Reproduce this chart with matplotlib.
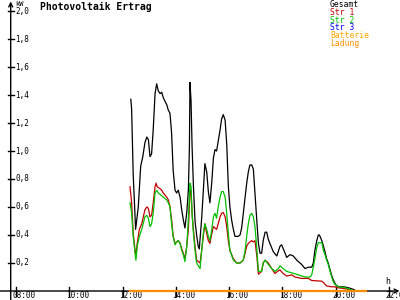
import numpy as np
import matplotlib
matplotlib.use("Agg")
import matplotlib.pyplot as plt

# Gesamt (kW) over time (decimal hours)
t_gesamt = [12.31, 12.34, 12.40, 12.49, 12.59, 12.68, 12.76, 12.84, 12.91, 12.97,
            13.03, 13.09, 13.15, 13.22, 13.28, 13.34, 13.41, 13.47, 13.53, 13.66,
            13.72, 13.78, 13.84, 13.90, 13.97, 14.03, 14.09, 14.16, 14.22, 14.28,
            14.34, 14.41, 14.47, 14.51, 14.53, 14.57, 14.61, 14.66, 14.72, 14.78,
            14.84, 14.88, 14.97, 15.03, 15.09, 15.16, 15.22, 15.28, 15.35, 15.41,
            15.47, 15.53, 15.59, 15.66, 15.72, 15.78, 15.85, 15.91, 15.97, 16.03,
            16.10, 16.16, 16.22, 16.34, 16.41, 16.47, 16.53, 16.60, 16.66, 16.72,
            16.78, 16.85, 16.91, 16.97, 17.04, 17.10, 17.16, 17.22, 17.28, 17.35,
            17.41, 17.47, 17.53, 17.66, 17.79, 17.91, 17.97, 18.10, 18.16, 18.29,
            18.41, 18.54, 18.72, 18.85, 18.97, 19.10, 19.16, 19.22, 19.29, 19.35,
            19.39, 19.48, 19.54, 19.60, 19.66, 19.72, 19.79, 19.85, 19.91, 19.97,
            20.04, 20.16, 20.29, 20.41, 20.54, 20.66, 20.73]
gesamt = [1.37, 1.30, 0.83, 0.44, 0.60, 0.89, 0.96, 1.06, 1.10, 1.08,
          0.96, 0.98, 1.15, 1.41, 1.48, 1.43, 1.41, 1.42, 1.38, 1.33,
          1.29, 1.27, 1.13, 0.86, 0.72, 0.70, 0.72, 0.67, 0.58, 0.51,
          0.45, 0.56, 0.72, 1.03, 1.49, 1.36, 1.03, 0.75, 0.50, 0.40,
          0.32, 0.30, 0.52, 0.71, 0.91, 0.85, 0.71, 0.63, 0.78, 0.95,
          1.01, 1.00, 1.07, 1.15, 1.23, 1.26, 1.22, 1.05, 0.75, 0.60,
          0.50, 0.44, 0.39, 0.39, 0.40, 0.45, 0.55, 0.67, 0.77, 0.85,
          0.90, 0.90, 0.87, 0.70, 0.50, 0.34, 0.27, 0.27, 0.36, 0.42,
          0.42, 0.37, 0.34, 0.28, 0.25, 0.32, 0.33, 0.27, 0.24, 0.26,
          0.25, 0.22, 0.19, 0.16, 0.17, 0.17, 0.20, 0.29, 0.36, 0.40,
          0.40, 0.36, 0.32, 0.28, 0.23, 0.20, 0.15, 0.11, 0.08, 0.055,
          0.036, 0.03, 0.03, 0.026, 0.02, 0.012, 0.005]

# Str 1
t_str1 = [12.28, 12.34, 12.40, 12.47, 12.50, 12.55, 12.63, 12.72, 12.84, 12.91,
          12.97, 13.03, 13.09, 13.15, 13.22, 13.26, 13.30, 13.41, 13.47, 13.53,
          13.66, 13.72, 13.78, 13.84, 13.90, 13.97, 14.03, 14.09, 14.16, 14.22,
          14.28, 14.34, 14.41, 14.47, 14.53, 14.57, 14.61, 14.66, 14.72, 14.78,
          14.91, 14.97, 15.03, 15.09, 15.16, 15.22, 15.28, 15.35, 15.41, 15.47,
          15.53, 15.59, 15.66, 15.72, 15.78, 15.85, 15.91, 15.97, 16.03, 16.16,
          16.28, 16.41, 16.53, 16.60, 16.66, 16.72, 16.78, 16.85, 16.91, 16.97,
          17.04, 17.10, 17.22, 17.28, 17.35, 17.47, 17.60, 17.72, 17.85, 17.91,
          18.03, 18.16, 18.35, 18.47, 18.72, 18.97, 19.10, 19.48, 19.54, 19.66,
          19.85, 19.97, 20.04, 20.23, 20.47, 20.54]
str1 = [0.745, 0.63, 0.41, 0.29, 0.245, 0.34, 0.44, 0.48, 0.58, 0.60,
        0.59, 0.53, 0.54, 0.63, 0.745, 0.77, 0.745, 0.73, 0.72, 0.70,
        0.67, 0.65, 0.60, 0.51, 0.39, 0.34, 0.35, 0.36, 0.34, 0.30,
        0.27, 0.23, 0.32, 0.44, 0.70, 0.72, 0.55, 0.44, 0.32, 0.22,
        0.20, 0.29, 0.39, 0.48, 0.41, 0.36, 0.34, 0.41, 0.46, 0.45,
        0.44, 0.48, 0.53, 0.555, 0.56, 0.53, 0.46, 0.36, 0.29, 0.23,
        0.20, 0.20, 0.22, 0.27, 0.32, 0.34, 0.35, 0.36, 0.35, 0.36,
        0.25, 0.12, 0.14, 0.20, 0.22, 0.20, 0.16, 0.125, 0.145, 0.15,
        0.125, 0.107, 0.115, 0.10, 0.09, 0.09, 0.075, 0.07, 0.06, 0.036,
        0.03, 0.03, 0.024, 0.02, 0.012, 0.005]

# Str 2
t_str2 = [12.28, 12.34, 12.40, 12.47, 12.50, 12.55, 12.63, 12.72, 12.84, 12.91,
          12.97, 13.03, 13.09, 13.15, 13.22, 13.28, 13.34, 13.41, 13.53, 13.66,
          13.72, 13.78, 13.84, 13.90, 13.97, 14.03, 14.09, 14.16, 14.22, 14.28,
          14.34, 14.41, 14.47, 14.53, 14.57, 14.61, 14.66, 14.72, 14.78, 14.91,
          14.97, 15.03, 15.09, 15.16, 15.22, 15.28, 15.35, 15.41, 15.47, 15.53,
          15.59, 15.66, 15.72, 15.78, 15.85, 15.91, 15.97, 16.03, 16.16, 16.28,
          16.41, 16.53, 16.60, 16.66, 16.72, 16.78, 16.85, 16.91, 16.97, 17.04,
          17.10, 17.22, 17.28, 17.35, 17.47, 17.60, 17.72, 17.85, 17.91, 18.03,
          18.16, 18.35, 18.60, 18.85, 19.04, 19.10, 19.16, 19.22, 19.29, 19.35,
          19.48, 19.54, 19.60, 19.66, 19.72, 19.79, 19.85, 19.91, 19.97, 20.10,
          20.35, 20.47, 20.60]
str2 = [0.63, 0.56, 0.39, 0.27, 0.22, 0.32, 0.39, 0.44, 0.53, 0.54,
        0.52, 0.46, 0.48, 0.555, 0.70, 0.72, 0.70, 0.69, 0.67, 0.65,
        0.63, 0.60, 0.48, 0.39, 0.33, 0.35, 0.36, 0.34, 0.29, 0.26,
        0.21, 0.32, 0.51, 0.77, 0.745, 0.55, 0.41, 0.29, 0.20, 0.16,
        0.29, 0.41, 0.48, 0.44, 0.39, 0.36, 0.44, 0.53, 0.555, 0.52,
        0.60, 0.67, 0.71, 0.71, 0.67, 0.555, 0.41, 0.29, 0.22, 0.20,
        0.20, 0.22, 0.29, 0.39, 0.48, 0.54, 0.555, 0.53, 0.46, 0.30,
        0.14, 0.14, 0.20, 0.22, 0.19, 0.16, 0.14, 0.16, 0.18, 0.16,
        0.14, 0.13, 0.115, 0.10, 0.10, 0.115, 0.17, 0.23, 0.31, 0.345,
        0.345, 0.29, 0.26, 0.22, 0.19, 0.14, 0.10, 0.066, 0.048, 0.03,
        0.024, 0.016, 0.007]

# Batterie / Ladung (zero over the day)
t_ladung = [12.28, 21.14]
ladung = [0.0, 0.0]

y_ticks = [0.2, 0.4, 0.6, 0.8, 1.0, 1.2, 1.4, 1.6, 1.8, 2.0]
x_ticks = [8, 10, 12, 14, 16, 18, 20, 22]

legend_items = [("Gesamt", "#000000"), ("Str 1", "#C00000"), ("Str 2", "#00C000"),
                ("Str 3", "#0000FF"), ("Batterie", "#FFA500"), ("Ladung", "#FF9000")]

MONO = "DejaVu Sans Mono"
W, H = 400, 300
px_per_h = 26.64
px_per_kw = 140.0
x0_px, y0_px = 16, 291          # pixel of 08:00 / 0 kW

fig = plt.figure(figsize=(4, 3), dpi=100)
ax = fig.add_axes([0, 0, 1, 1])
ax.set_xlim(8 - x0_px / px_per_h, 8 + (W - x0_px) / px_per_h)
ax.set_ylim(-(H - y0_px) / px_per_kw, y0_px / px_per_kw)
ax.axis("off")

def hx(px):
    return 8 + (px - x0_px) / px_per_h

def vy(px):
    return (y0_px - px) / px_per_kw

axis_x = hx(10.7)

# axes with arrows
ax.annotate("", xy=(axis_x, vy(1.5)), xytext=(axis_x, vy(H)),
            arrowprops=dict(arrowstyle="->", lw=1.0, color="black",
                            shrinkA=0, shrinkB=0, mutation_scale=7))
ax.annotate("", xy=(hx(399.5), 0), xytext=(hx(0), 0),
            arrowprops=dict(arrowstyle="->", lw=1.0, color="black",
                            shrinkA=0, shrinkB=0, mutation_scale=7))

# y ticks
for v in y_ticks:
    ax.plot([hx(8), hx(13.5)], [v, v], color="black", lw=1.0)
    ax.text(hx(15), v, f"{v:.1f}".replace(".", ","), fontsize=5.5,
            family=MONO, va="center", ha="left")

# x ticks
for h in x_ticks:
    ax.plot([h, h], [vy(287), vy(296)], color="black", lw=1.0)
    ax.text(h - 3.5 / px_per_h, vy(295.3), f"{h:02d}:00", fontsize=5.5,
            family=MONO, va="center", ha="left")

# data
ax.plot(t_gesamt, gesamt, color="#000000", lw=0.9)
ax.plot(t_str1, str1, color="#C00000", lw=0.9)
ax.plot(t_str2, str2, color="#00C000", lw=0.9)
ax.plot(t_ladung, ladung, color="#FF8C00", lw=1.6, zorder=5)

# labels
fig.text(40 / W, 1 - 6.5 / H, "Photovoltaik Ertrag", fontsize=7, family=MONO,
         fontweight="bold", va="center", ha="left")
fig.text(15.5 / W, 1 - 4.5 / H, "kW", fontsize=5, family=MONO, va="center", ha="left")
fig.text(385 / W, 1 - 281 / H, "h", fontsize=6, family=MONO, va="center", ha="left")
for i, (name, col) in enumerate(legend_items):
    fig.text(330 / W, 1 - (4.5 + 7.8 * i) / H, name, fontsize=5.8, family=MONO,
             color=col, va="center", ha="left")

fig.savefig("out.png", dpi=100, facecolor="white")
